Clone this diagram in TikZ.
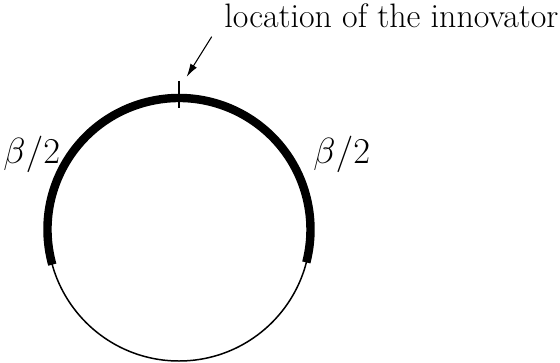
\documentclass[tikz,border=0pt]{standalone}
\usepackage{amsmath,amssymb}
\usepackage{xcolor}
\usepackage{tikz}
\usetikzlibrary{arrows.meta,calc}
\tikzset{
  ring/.style    = {draw, line width=0.85pt},
  share/.style   = {draw, line width=4.8pt},
  ticksign/.style = {draw, line width=0.8pt},
  lbl/.style     = {font=\fontsize{19.3}{23}\selectfont, inner sep=0pt},
  pointer/.style = {-{Latex[length=2.6mm, width=1.5mm]}, line width=0.6pt},
}
\begin{document}
\begin{tikzpicture}[x=0.02cm, y=0.02cm]
  \useasboundingbox (0,0) rectangle (560,362);
  \coordinate (c) at (179,132.5);
  \coordinate (top) at ($(c)+(90:131.5)$);
  % whole market circle and the innovator's share
  \draw[ring] (c) circle[radius=131.5];
  \draw[share] ($(c)+(195.5:131.5)$) arc[start angle=195.5, end angle=-14.5, radius=131.5];
  \draw[ticksign] ($(top)+(0,17)$) -- ($(top)+(0,-10)$);
  % labels
  \node[lbl, anchor=base west] (loc) at (224,334) {location of the innovator};
  \node[lbl, anchor=base west] (betaL) at (3,199) {$\beta/2$};
  \node[lbl, anchor=base west] (betaR) at (313,199) {$\beta/2$};
  \coordinate (tail) at (211.7,325.3);
  \coordinate (tip) at (186.7,285.3);
  \draw[pointer] (tail) -- (tip);
\end{tikzpicture}
\end{document}
